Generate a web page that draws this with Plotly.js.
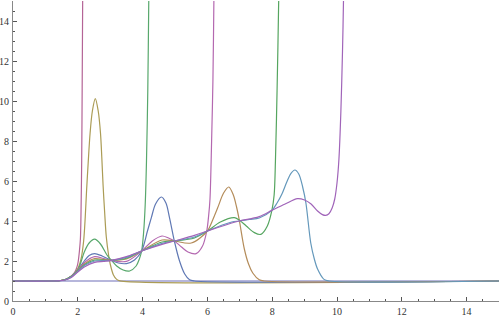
<!DOCTYPE html>
<html>
<head>
<meta charset="utf-8">
<script src="https://cdn.plot.ly/plotly-3.0.1.min.js"></script>
<style>html,body{margin:0;padding:0;background:#fff;}#chart{width:500px;height:317px;}</style>
</head>
<body>
<div id="chart"></div>
<script>
const tickVals = [0,2,4,6,8,10,12,14];
const tickText = ["0","2","4","6","8","10","12","14"];

const x1 = [0, 15];
const y1 = [1, 1];

const x2 = [0,1.2,1.4,1.6,1.8,1.9,1.97,2.01,2.05,2.08,2.1,2.12,2.135,2.15,2.16];
const y2 = [1,1,1.01,1.06,1.24,1.42,1.68,1.95,2.5,3.1,4.5,7,10.6,15,18];

const x3 = [0,1.2,1.4,1.6,1.8,2.0,2.1,2.18,2.23,2.27,2.32,2.38,2.45,2.54,2.63,2.7,2.74,2.78,2.83,2.88,2.95,3.0,3.1,3.2,3.3,15];
const y3 = [1,1,1.01,1.06,1.24,1.62,2.1,3.0,4.2,5.5,6.9,8.4,9.5,10.12,9.5,8.4,7.2,5.8,4.4,3.2,2.3,1.85,1.3,1.08,1.01,1];

const x4 = [0,1.2,1.4,1.6,1.8,2.0,2.1,2.2,2.35,2.52,2.7,2.9,3.04,3.2,3.4,3.6,3.8,3.9,3.97,4.03,4.08,4.12,4.16,4.19,4.21];
const y4 = [1,1,1.01,1.06,1.24,1.55,1.95,2.45,2.9,3.09,2.85,2.3,2.03,1.75,1.55,1.5,1.75,2.1,2.5,3.4,4.8,7,10.5,15,18];

const x5 = [0,1.2,1.4,1.6,1.8,2.0,2.2,2.35,2.52,2.75,3.04,3.25,3.5,3.75,3.97,4.15,4.27,4.4,4.58,4.72,4.83,4.98,5.14,5.3,5.45,5.6,15];
const y5 = [1,1,1.01,1.06,1.24,1.55,2.0,2.28,2.37,2.25,2.03,1.9,1.87,2.05,2.5,3.5,4.17,4.85,5.2,4.9,4.17,3.0,2.0,1.35,1.06,1.0,1];

const x6 = [0,1.2,1.4,1.6,1.8,2.0,2.2,2.52,2.8,3.04,3.5,3.97,4.3,4.6,4.8,4.98,5.2,5.4,5.65,5.85,5.98,6.04,6.08,6.13,6.17,6.2,6.22];
const y6 = [1,1,1.01,1.06,1.24,1.53,1.92,2.22,2.12,2.03,1.98,2.5,3.0,3.25,3.15,3.0,2.7,2.45,2.37,2.75,3.5,4.3,5.1,8,11,15,18];

const x7 = [0,1.2,1.4,1.6,1.8,2.0,2.2,2.52,2.8,3.04,3.5,3.97,4.6,4.98,5.5,6.0,6.15,6.32,6.5,6.66,6.8,6.9,6.98,7.14,7.27,7.4,7.6,7.75,15];
const y7 = [1,1,1.01,1.06,1.22,1.52,1.85,2.12,2.07,2.03,2.1,2.5,3.05,3.0,2.9,3.5,4.0,4.67,5.4,5.7,5.3,4.7,4.08,2.6,1.85,1.4,1.06,1.0,1];

const x8 = [0,1.2,1.4,1.6,1.8,2.0,2.2,2.52,2.8,3.04,3.5,3.97,4.6,4.98,5.6,6.0,6.4,6.83,6.98,7.2,7.45,7.65,7.85,7.99,8.06,8.1,8.15,8.2,8.22];
const y8 = [1,1,1.01,1.06,1.22,1.5,1.8,2.05,2.04,2.03,2.14,2.5,2.95,3.0,3.15,3.5,3.95,4.17,4.05,3.75,3.42,3.33,3.75,4.53,5.3,7,10.5,15,18];

const x9 = [0,1.2,1.4,1.6,1.8,2.0,2.2,2.52,3.04,3.5,3.97,4.6,4.98,5.6,6.0,6.75,6.98,7.3,7.6,7.99,8.15,8.3,8.45,8.58,8.7,8.82,8.94,9.04,9.19,9.3,9.4,9.6,9.75,15];
const y9 = [1,1,1.01,1.05,1.2,1.48,1.77,2.0,2.03,2.18,2.5,2.88,3.0,3.2,3.5,3.95,4.0,4.08,4.15,4.53,4.9,5.35,5.95,6.38,6.55,6.35,5.7,4.9,2.9,2.1,1.6,1.08,1.0,1];

const x10 = [0,1.2,1.4,1.6,1.8,2.0,2.2,2.52,2.8,3.04,3.5,3.97,4.6,4.98,5.6,6.0,6.75,6.98,7.6,7.99,8.4,8.78,9.0,9.2,9.4,9.55,9.65,9.75,9.85,9.93,10.0,10.06,10.12,10.17,10.2,10.22];
const y10 = [1,1,1.01,1.05,1.18,1.45,1.7,1.93,1.98,2.03,2.22,2.5,2.83,3.0,3.28,3.5,3.9,4.0,4.22,4.53,4.85,5.12,5.05,4.85,4.5,4.32,4.28,4.36,4.65,5.1,5.9,7.1,9.5,12.5,15,18];

const xs = [x1,x2,x3,x4,x5,x6,x7,x8,x9,x10];
const ys = [y1,y2,y3,y4,y5,y6,y7,y8,y9,y10];
const colors = ["#6f6eb8","#b46496","#ab9c55","#58a86c","#5f78b4","#b468b0","#b48c5a","#55a55f","#6498bb","#a064b9"];

const traces = xs.map((x, i) => ({
  x: x, y: ys[i], type: "scatter", mode: "lines",
  line: {color: colors[i], width: 1.2, shape: "spline", smoothing: 0.9},
  hoverinfo: "skip"
}));

const axisCommon = {
  showgrid: false, zeroline: false, showline: true,
  linecolor: "#888", linewidth: 1,
  ticks: "inside", ticklen: 4, tickcolor: "#555", tickwidth: 1,
  tickfont: {family: "Liberation Serif", size: 10, color: "#333"},
  tickmode: "array", tickvals: tickVals, ticktext: tickText,
  minor: {dtick: 0.5, ticks: "inside", ticklen: 2, tickcolor: "#555", tickwidth: 1},
  fixedrange: true
};

const layout = {
  width: 500, height: 317,
  margin: {l: 13, r: 1, t: 1, b: 16, pad: 0},
  paper_bgcolor: "#fff", plot_bgcolor: "#fff",
  showlegend: false,
  xaxis: Object.assign({}, axisCommon, {range: [0, 15], ticklabelstandoff: 1}),
  yaxis: Object.assign({}, axisCommon, {range: [0, 15], ticklabelstandoff: 1})
};

Plotly.newPlot("chart", traces, layout, {staticPlot: true, displayModeBar: false});
</script>
</body>
</html>
